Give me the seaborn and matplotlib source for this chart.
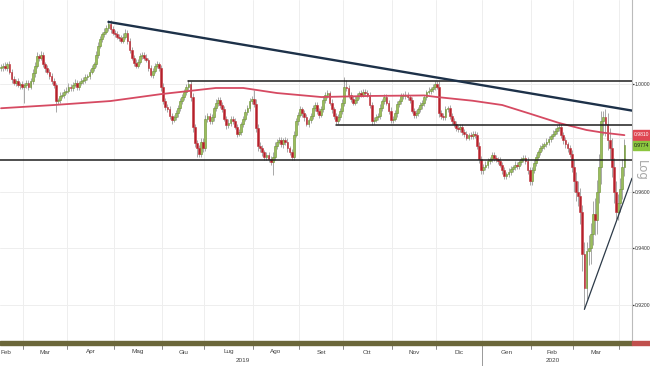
import numpy as np
import pandas as pd
import matplotlib
matplotlib.use("Agg")
import matplotlib.pyplot as plt
import seaborn as sns
from matplotlib import transforms, ticker, font_manager
from matplotlib.patches import Rectangle

# %% data: daily closes (weekdays from 2019-02-14 to 2020-04-03)
first_open = 1.0060
close = [
    # Feb 2019
    1.0065, 1.0070, 1.0060, 1.0075, 1.0045, 1.0020, 1.0005, 1.0010, 0.9995, 1.0000, 0.9990,
    # Mar
    0.9995, 1.0005, 0.9990, 1.0010, 1.0040, 1.0070, 1.0105, 1.0100, 1.0110, 1.0075, 1.0060,
    1.0045, 1.0030, 1.0010, 0.9995, 0.9935, 0.9940, 0.9955, 0.9960, 0.9970, 0.9975,
    # Apr
    0.9990, 0.9985, 0.9995, 1.0005, 0.9990, 1.0005, 1.0010, 1.0015, 1.0025, 1.0030, 1.0045,
    1.0060, 1.0075, 1.0110, 1.0145, 1.0170, 1.0190, 1.0200, 1.0215, 1.0230, 1.0210, 1.0195,
    # May
    1.0190, 1.0180, 1.0175, 1.0165, 1.0180, 1.0195, 1.0165, 1.0130, 1.0100, 1.0080, 1.0070,
    1.0085, 1.0105, 1.0110, 1.0100, 1.0090, 1.0060, 1.0035, 1.0050, 1.0070, 1.0075, 1.0060, 0.9990,
    # Jun
    0.9935, 0.9915, 0.9905, 0.9880, 0.9865, 0.9875, 0.9890, 0.9910, 0.9935, 0.9950,
    0.9970, 0.9990, 1.0000, 0.9950, 0.9840, 0.9780, 0.9760, 0.9740, 0.9785, 0.9760,
    # Jul
    0.9870, 0.9880, 0.9860, 0.9875, 0.9910, 0.9930, 0.9940, 0.9920, 0.9905, 0.9870, 0.9845,
    0.9855, 0.9870, 0.9860, 0.9840, 0.9815, 0.9820, 0.9850, 0.9870, 0.9895, 0.9910, 0.9935, 0.9945,
    # Aug
    0.9925, 0.9835, 0.9770, 0.9760, 0.9745, 0.9730, 0.9735, 0.9720, 0.9710, 0.9730, 0.9770,
    0.9785, 0.9790, 0.9775, 0.9790, 0.9785, 0.9760, 0.9745, 0.9730, 0.9810, 0.9860, 0.9885,
    # Sep
    0.9905, 0.9890, 0.9875, 0.9850, 0.9865, 0.9880, 0.9910, 0.9920, 0.9900, 0.9885, 0.9905,
    0.9940, 0.9960, 0.9965, 0.9930, 0.9905, 0.9880, 0.9860, 0.9875, 0.9900, 0.9930,
    # Oct
    0.9990, 0.9985, 0.9960, 0.9945, 0.9930, 0.9940, 0.9955, 0.9965, 0.9960, 0.9970, 0.9965,
    0.9960, 0.9920, 0.9860, 0.9865, 0.9875, 0.9880, 0.9910, 0.9935, 0.9950, 0.9930, 0.9900, 0.9865,
    # Nov
    0.9870, 0.9890, 0.9925, 0.9935, 0.9955, 0.9955, 0.9960, 0.9950, 0.9940, 0.9900, 0.9885,
    0.9890, 0.9905, 0.9920, 0.9930, 0.9950, 0.9970, 0.9975, 0.9980, 0.9990, 1.0000,
    # Dec
    0.9990, 0.9890, 0.9880, 0.9875, 0.9905, 0.9910, 0.9880, 0.9860, 0.9850, 0.9835, 0.9830,
    0.9840, 0.9820, 0.9815, 0.9800, 0.9810, 0.9805, 0.9815, 0.9810, 0.9770, 0.9720, 0.9680,
    # Jan 2020
    0.9690, 0.9700, 0.9715, 0.9720, 0.9735, 0.9725, 0.9720, 0.9715, 0.9700, 0.9680, 0.9660,
    0.9665, 0.9675, 0.9685, 0.9690, 0.9700, 0.9695, 0.9710, 0.9720, 0.9725, 0.9715, 0.9680, 0.9640,
    # Feb
    0.9680, 0.9705, 0.9730, 0.9745, 0.9760, 0.9770, 0.9775, 0.9785, 0.9795, 0.9805,
    0.9815, 0.9825, 0.9835, 0.9840, 0.9810, 0.9790, 0.9775, 0.9760, 0.9740, 0.9690,
    # Mar
    0.9640, 0.9600, 0.9585, 0.9530, 0.9380, 0.9260, 0.9390, 0.9400, 0.9450, 0.9520, 0.9500,
    0.9600, 0.9690, 0.9860, 0.9875, 0.9850, 0.9790, 0.9760, 0.9690, 0.9600, 0.9530, 0.9560,
    # Apr
    0.9610, 0.9690, 0.9774,
]

# wick length above / below the body, in pips
wick_up = [
    12, 10, 15, 8, 14, 10, 12, 9, 11, 8, 13,
    10, 12, 9, 14, 18, 12, 15, 10, 14, 12, 9, 11, 10, 13, 12, 10, 9, 14, 11, 10, 12,
    12, 9, 11, 14, 10, 8, 12, 10, 13, 9, 11, 12, 10, 14, 15, 12, 10, 13, 11, 14, 16, 12,
    10, 12, 9, 11, 14, 15, 10, 12, 11, 9, 13, 10, 12, 11, 10, 14, 9, 12, 10, 11, 13, 10, 12,
    14, 12, 10, 11, 13, 9, 12, 10, 11, 14, 12, 10, 15, 13, 18, 12, 10, 11, 14, 12,
    14, 10, 12, 11, 9, 13, 12, 10, 11, 12, 9, 14, 10, 11, 12, 10, 13, 9, 11, 12, 10, 14, 11,
    32, 20, 15, 12, 14, 10, 11, 13, 12, 15, 14, 10, 12, 11, 9, 13, 12, 10, 11, 14, 12, 10,
    12, 10, 11, 13, 9, 12, 10, 14, 11, 10, 12, 13, 10, 11, 9, 12, 10, 11, 13, 10, 12,
    35, 25, 12, 10, 11, 13, 12, 10, 14, 11, 10, 12, 9, 11, 10, 12, 11, 13, 10, 12, 11, 10, 12,
    10, 12, 11, 9, 13, 10, 12, 11, 10, 12, 9, 11, 10, 12, 11, 10, 9, 12, 10, 11, 12,
    12, 20, 11, 10, 12, 9, 11, 10, 12, 11, 10, 9, 12, 10, 11, 8, 9, 10, 11, 12, 14, 12,
    14, 12, 11, 10, 13, 12, 11, 10, 12, 11, 13, 10, 12, 11, 10, 12, 11, 9, 10, 12, 11, 14, 12,
    12, 14, 11, 10, 12, 11, 10, 12, 11, 10, 12, 11, 10, 13, 14, 12, 11, 10, 12, 13,
    30, 35, 40, 30, 25, 40, 30, 45, 40, 50, 60, 45, 50, 40, 25, 30, 40, 45, 40, 35, 40, 35,
    40, 30, 20,
]
wick_dn = [
    10, 14, 8, 12, 9, 15, 10, 13, 8, 12, 10,
    60, 10, 12, 8, 10, 14, 9, 12, 10, 11, 13, 9, 12, 10, 11, 40, 12, 10, 9, 11, 8,
    9, 12, 10, 8, 11, 13, 9, 10, 12, 8, 10, 9, 11, 10, 12, 9, 11, 10, 8, 12, 14, 10,
    12, 9, 11, 10, 8, 10, 13, 11, 9, 12, 10, 11, 9, 12, 10, 8, 11, 10, 12, 9, 10, 11, 15,
    12, 14, 11, 10, 13, 9, 10, 12, 11, 10, 9, 12, 11, 14, 20, 15, 30, 12, 10, 13,
    10, 12, 9, 11, 13, 10, 12, 11, 9, 10, 12, 11, 13, 10, 9, 12, 11, 10, 12, 9, 11, 10, 12,
    12, 15, 20, 14, 12, 11, 13, 10, 12, 47, 11, 12, 10, 9, 12, 11, 13, 10, 12, 11, 9, 12,
    10, 12, 13, 9, 11, 10, 12, 10, 11, 13, 9, 10, 12, 11, 10, 12, 13, 10, 9, 11, 12,
    12, 10, 11, 13, 9, 10, 12, 11, 10, 9, 12, 10, 11, 12, 10, 9, 11, 10, 12, 11, 10, 13, 11,
    11, 9, 12, 10, 11, 12, 10, 9, 11, 10, 12, 11, 10, 9, 12, 11, 10, 9, 11, 10, 12,
    10, 15, 12, 11, 9, 10, 12, 11, 10, 12, 9, 11, 10, 12, 9, 8, 10, 9, 11, 12, 15, 14,
    12, 10, 11, 13, 10, 12, 11, 12, 10, 13, 12, 11, 10, 12, 11, 10, 12, 11, 10, 9, 11, 13, 15,
    15, 10, 11, 12, 10, 11, 12, 10, 11, 12, 10, 11, 12, 10, 11, 12, 14, 12, 13, 18,
    40, 30, 35, 45, 60, 75, 40, 50, 55, 40, 55, 50, 40, 60, 50, 45, 35, 40, 35, 40, 25, 30,
    30, 35, 30,
]

# 200-day moving average (red), read at a few dates
ma_dates = ["2019-02-14", "2019-03-21", "2019-04-29", "2019-05-31", "2019-07-08", "2019-07-25",
            "2019-08-16", "2019-09-16", "2019-10-17", "2019-11-22", "2019-12-02", "2019-12-25",
            "2020-01-14", "2020-01-31", "2020-02-20", "2020-03-10", "2020-03-20", "2020-04-03"]
ma_vals = [0.9909, 0.9921, 0.9936, 0.9962, 0.9985, 0.9985, 0.9966, 0.9951, 0.9955, 0.9957,
           0.9951, 0.9937, 0.9921, 0.9889, 0.9854, 0.9828, 0.9818, 0.9809]

# drawn levels / trendlines
level_top = ("2019-06-19", 1.0012)
level_mid = ("2019-09-25", 0.9845)
level_low = 0.9717
trend_down = [("2019-04-26", 1.0237), ("2020-04-03", 0.9905)]
trend_up = [("2020-03-09", 0.9185), ("2020-04-03", 0.9575)]

tag_ma = "0.9810"
tag_last = "0.9774"
month_names = ["Gen", "Feb", "Mar", "Apr", "Mag", "Giu", "Lug", "Ago", "Set", "Ott", "Nov", "Dic"]
yticks = [0.92, 0.94, 0.96, 0.98, 1.00]

# %% prep
dates = pd.bdate_range("2019-02-14", periods=len(close))
pos = pd.Series(np.arange(len(dates)), index=dates)

c = np.array(close)
o = np.array([first_open] + close[:-1])
hi = np.maximum(o, c) + np.array(wick_up) / 10000
lo = np.minimum(o, c) - np.array(wick_dn) / 10000
x = np.arange(len(c))
up = c >= o

sns.set_style("white")
installed = {f.name for f in font_manager.fontManager.ttflist}
small_font = [f for f in ["Liberation Sans Narrow", "Liberation Sans"] if f in installed] + ["DejaVu Sans"]

W, H = 650, 366
fig = plt.figure(figsize=(6.5, 3.66), dpi=100)
ax = fig.add_axes([0, 1 - 341 / H, 632 / W, 341 / H])
ax.set_yscale("log")
xr = 299.6
ax.set_xlim(-0.5, xr)
ax.set_ylim(0.9076, 1.0322)

# grid: month boundaries + price levels
month_start = [pos[g.index[0]] for _, g in pos.groupby([dates.year, dates.month])]
for m in month_start[1:]:
    ax.axvline(m - 0.5, color="#eeeeee", lw=0.7, zorder=0)
for t in yticks:
    ax.axhline(t, color="#eeeeee", lw=0.7, zorder=0)

# candles
ax.vlines(x, lo, hi, color="#a8a8a8", lw=0.7, zorder=2)
body_lo = np.minimum(o, c)
body_h = np.maximum(np.abs(c - o), 0.0004)
ax.bar(x[up], body_h[up], bottom=body_lo[up], width=0.85, color="#9bbd5c",
       edgecolor="#6a9030", lw=0.4, zorder=3)
ax.bar(x[~up], body_h[~up], bottom=body_lo[~up], width=0.85, color="#b5202b",
       edgecolor="#c0323b", lw=0.4, zorder=3)

# moving average
ma_x = [pos[pd.Timestamp(d)] for d in ma_dates]
sns.lineplot(x=ma_x, y=ma_vals, ax=ax, color="#d64a62", lw=1.3, sort=False,
             estimator=None, zorder=4)


def extend(p0, p1):
    x0, y0 = pos[pd.Timestamp(p0[0])], p0[1]
    x1, y1 = pos[pd.Timestamp(p1[0])], p1[1]
    k = (np.log(y1) - np.log(y0)) / (x1 - x0)
    return [x0, xr], [y0, y0 * np.exp(k * (xr - x0))]


ax.plot([pos[pd.Timestamp(level_top[0])], xr], [level_top[1]] * 2, color="#1e1e1e", lw=1.1, zorder=5)
ax.plot([pos[pd.Timestamp(level_mid[0])], xr], [level_mid[1]] * 2, color="#1e1e1e", lw=1.1, zorder=5)
ax.axhline(level_low, color="#1e1e1e", lw=1.1, zorder=5)
xs, ys = extend(*trend_down)
ax.plot(xs, ys, color="#1d3149", lw=1.7, zorder=5)
xs, ys = extend(*trend_up)
ax.plot(xs, ys, color="#2c3a48", lw=0.9, zorder=5)

# right price axis (0.98 label sits under the price tags)
for s in ["left", "top", "bottom"]:
    ax.spines[s].set_visible(False)
ax.spines["right"].set_color("#bbbbbb")
ax.spines["right"].set_linewidth(0.8)
ax.yaxis.tick_right()
ax.yaxis.set_major_locator(ticker.FixedLocator(yticks))
ax.yaxis.set_minor_locator(ticker.NullLocator())
ax.yaxis.set_major_formatter(ticker.FuncFormatter(lambda v, _: "" if abs(v - 0.98) < 1e-6 else f"{v:.4f}"))
ax.tick_params(axis="y", labelsize=3.6, colors="#333333", length=1.6, width=0.9, pad=0.5)
for lab in ax.get_yticklabels():
    lab.set_family(small_font)
ax.set_xticks([])

# price tags on the right strip
y_ma = 1 - (H - ax.transData.transform((0, float(tag_ma)))[1]) / H
y_last = 1 - (H - ax.transData.transform((0, float(tag_last)))[1]) / H
y_last = min(y_last + 2.5 / H, y_ma - 10.5 / H)
for yc, txt, fc, tc in [(y_ma, tag_ma, "#df4752", "white"), (y_last, tag_last, "#8cc63e", "#1a1a1a")]:
    fig.patches.append(Rectangle((632.5 / W, yc - 4.7 / H), 17.5 / W, 9.4 / H,
                                 transform=fig.transFigure, color=fc, zorder=10))
    fig.text(641.5 / W, yc, txt, fontsize=3.6, color=tc, ha="center", va="center",
             family=small_font, zorder=11)
fig.text(641 / W, 1 - 170 / H, "Log", rotation=270, fontsize=8.5, color="#a8a8a8",
         ha="center", va="center")

# bottom band and date axis
fig.patches.append(Rectangle((0, 1 - 345 / H), 632 / W, 4 / H, transform=fig.transFigure,
                             color="#6b673a", zorder=5))
fig.patches.append(Rectangle((632 / W, 1 - 345 / H), 18 / W, 4 / H, transform=fig.transFigure,
                             color="#c0504d", zorder=5))
btr = transforms.blended_transform_factory(ax.transData, fig.transFigure)
for m in month_start[1:]:
    ax.plot([m - 0.5, m - 0.5], [1 - 345 / H, 1 - 349 / H], transform=btr, color="#777777",
            lw=0.6, clip_on=False)
groups = list(pos.groupby([dates.year, dates.month]))
for k, ((yy, mm), g) in enumerate(groups):
    if len(g) < 5:
        continue
    xm = 2.5 if k == 0 else (g.iloc[0] + g.iloc[-1]) / 2
    ax.text(xm, 1 - 352 / H, month_names[mm - 1], transform=btr, family=small_font,
            fontsize=4.6, color="#444444", ha="center", va="center", clip_on=False)
for yy in [2019, 2020]:
    g = pos[(dates.year == yy) & (pos.values < len(c) - 3)]
    ax.text((g.iloc[0] + g.iloc[-1]) / 2 + 1, 1 - 361 / H, str(yy), transform=btr,
            family=small_font, fontsize=4.6, color="#444444", ha="center", va="center",
            clip_on=False)
ynew = pos[pd.Timestamp("2020-01-01")] - 0.5
ax.plot([ynew, ynew], [1 - 345 / H, 0], transform=btr, color="#999999", lw=0.7, clip_on=False)

fig.savefig("out.png", dpi=100)
